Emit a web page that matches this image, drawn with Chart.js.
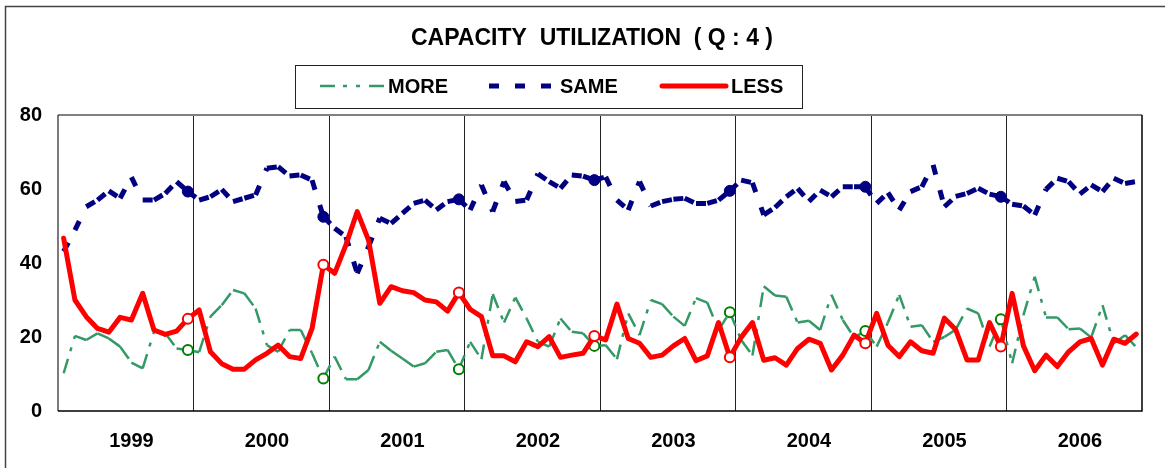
<!DOCTYPE html>
<html>
<head>
<meta charset="utf-8">
<script src="https://cdn.jsdelivr.net/npm/chart.js@4"></script>
<style>
  html, body { margin: 0; padding: 0; background: #fff; }
  #wrap { width: 1165px; height: 468px; }
</style>
</head>
<body>
<div id="wrap"><canvas id="capChart" width="1165" height="468"></canvas></div>
<script>
// ---- data (monthly, Jan 1999 .. Dec 2006) ----
const years = ["1999", "2000", "2001", "2002", "2003", "2004", "2005", "2006"];
const yTicks = [0, 20, 40, 60, 80];

const more = [
  10.2, 20.3, 19.2, 21.0, 19.6, 17.4, 13.1, 11.5, 21.4, 21.0, 16.9, 16.5,
  15.9, 25.5, 28.6, 32.7, 31.8, 27.7, 17.8, 16.0, 21.9, 21.9, 15.6, 8.8,
  14.7, 8.6, 8.6, 11.1, 18.7, 16.3, 14.2, 12.0, 12.9, 16.0, 16.5, 11.3,
  18.7, 14.0, 31.6, 23.9, 30.7, 25.0, 18.7, 17.4, 25.0, 21.4, 21.0, 17.6,
  17.8, 14.0, 26.4, 20.5, 30.0, 28.9, 25.5, 23.0, 30.5, 29.3, 21.9, 26.7,
  19.2, 15.0, 33.7, 31.2, 30.9, 23.9, 24.4, 21.9, 31.4, 24.6, 19.9, 21.6,
  17.4, 23.9, 31.4, 22.8, 23.2, 18.7, 20.0, 22.0, 27.7, 26.4, 17.4, 24.8,
  12.9, 25.9, 36.3, 25.3, 25.3, 22.1, 22.3, 19.9, 28.6, 18.3, 20.5, 17.2
];
const same = [
  43.1, 48.9, 55.2, 57.0, 59.5, 57.5, 63.2, 57.0, 57.0, 58.8, 62.0, 59.3,
  57.0, 57.9, 59.9, 56.6, 57.5, 58.4, 65.6, 66.0, 63.5, 63.8, 62.4, 52.5,
  49.4, 47.1, 37.2, 44.4, 52.1, 50.7, 53.4, 56.1, 57.0, 54.3, 56.6, 57.2,
  54.3, 61.1, 53.9, 62.0, 56.6, 57.0, 64.1, 62.0, 60.2, 63.8, 63.5, 62.4,
  63.3, 57.0, 54.3, 62.0, 55.4, 56.6, 57.2, 57.5, 56.1, 56.1, 57.0, 59.5,
  62.4, 61.7, 53.0, 55.0, 57.9, 60.2, 56.6, 59.7, 57.9, 60.6, 60.6, 60.6,
  56.1, 59.0, 54.3, 59.3, 60.6, 66.5, 55.2, 58.0, 58.8, 60.2, 58.6, 57.9,
  55.9, 55.4, 53.0, 59.9, 62.9, 62.0, 58.6, 61.1, 59.3, 62.9, 61.5, 62.0
];
const less = [
  46.7, 30.0, 25.5, 22.3, 21.3, 25.3, 24.6, 31.8, 21.9, 20.7, 21.6, 24.9,
  27.3, 16.0, 12.8, 11.3, 11.3, 13.8, 15.6, 17.8, 14.7, 14.2, 22.3, 39.5,
  37.2, 44.9, 53.9, 46.2, 29.1, 33.6, 32.5, 32.0, 30.0, 29.5, 27.0, 32.0,
  27.5, 25.5, 14.9, 14.9, 13.3, 18.7, 17.4, 20.1, 14.5, 15.1, 15.6, 20.3,
  19.2, 28.9, 19.6, 18.3, 14.5, 15.1, 17.6, 19.6, 13.6, 14.9, 23.9, 14.5,
  19.9, 23.9, 13.7, 14.4, 12.4, 16.9, 19.4, 18.3, 11.1, 15.1, 20.5, 18.3,
  26.4, 17.8, 14.7, 18.7, 16.3, 15.6, 25.1, 22.0, 13.8, 13.8, 23.9, 17.4,
  31.8, 17.6, 10.9, 15.1, 12.0, 16.0, 18.7, 19.6, 12.4, 19.4, 18.3, 20.8
];

const labels = [];
years.forEach(y => { for (let m = 1; m <= 12; m++) labels.push(y + "-" + m); });

const FONT = '"Liberation Sans", Arial, sans-serif';
const GREEN = "#339966", NAVY = "#000080", RED = "#ff0000";
const moreDash = [15, 8, 4, 9, 4, 9];
const sameDash = [10, 16];

// year-end marker (December), not on the last year
const isMark = ctx => ctx.dataIndex % 12 === 11 && ctx.dataIndex < labels.length - 1;
// restart the dash pattern on every segment (as the original does)
const restartDash = ctx => (ctx.p0DataIndex % 2) * 0.01;

const framePlugin = {
  id: "frame",
  afterDraw(chart) {
    const c = chart.ctx, a = chart.chartArea;
    c.save();
    // outer frame
    c.strokeStyle = "#444"; c.lineWidth = 1.5;
    c.strokeRect(5.5, 6.5, 1200, 500);
    // plot box
    c.lineWidth = 2; c.strokeStyle = "#808080";
    c.beginPath(); c.moveTo(a.left, a.top); c.lineTo(a.right, a.top); c.stroke();
    c.lineWidth = 1.2; c.strokeStyle = "#222";
    c.beginPath(); c.moveTo(a.left, a.top); c.lineTo(a.left, a.bottom); c.stroke();
    c.lineWidth = 1.5; c.strokeStyle = "#000";
    c.beginPath(); c.moveTo(a.left, a.bottom); c.lineTo(a.right, a.bottom); c.lineTo(a.right, a.top); c.stroke();

    // title
    c.fillStyle = "#000";
    c.font = "bold 23px " + FONT;
    c.textAlign = "center"; c.textBaseline = "middle";
    c.fillText("CAPACITY  UTILIZATION  ( Q : 4 )", 592, 39);

    // legend box
    c.lineWidth = 1; c.strokeStyle = "#222";
    c.strokeRect(295.5, 65.5, 507, 43);
    const ly = 86;
    const items = [
      { x0: 320, x1: 385, tx: 388, text: "MORE", color: GREEN, w: 2.5, dash: moreDash, cap: "butt" },
      { x0: 489, x1: 552, tx: 560, text: "SAME", color: NAVY, w: 5, dash: sameDash, cap: "butt" },
      { x0: 662, x1: 726, tx: 731, text: "LESS", color: RED, w: 5, dash: [], cap: "round" }
    ];
    c.textAlign = "left";
    items.forEach(it => {
      c.strokeStyle = it.color; c.lineWidth = it.w; c.lineCap = it.cap;
      c.setLineDash(it.dash);
      c.beginPath(); c.moveTo(it.x0, ly); c.lineTo(it.x1, ly); c.stroke();
      c.setLineDash([]);
      c.fillStyle = "#000";
      c.font = "bold 20px " + FONT;
      c.fillText(it.text, it.tx, ly + 1);
    });
    c.restore();
  }
};

new Chart(document.getElementById("capChart"), {
  type: "line",
  data: {
    labels: labels,
    datasets: [
      {
        label: "MORE", data: more, order: 3,
        borderColor: GREEN, borderWidth: 2.5, borderDash: moreDash,
        segment: { borderDashOffset: restartDash },
        tension: 0, fill: false,
        pointRadius: ctx => isMark(ctx) ? 5 : 0,
        pointBorderColor: "#008000", pointBackgroundColor: "#fff", pointBorderWidth: 2
      },
      {
        label: "SAME", data: same, order: 2,
        borderColor: NAVY, borderWidth: 5, borderDash: sameDash,
        segment: { borderDashOffset: restartDash },
        tension: 0, fill: false,
        pointRadius: ctx => isMark(ctx) ? 5.5 : 0,
        pointBorderColor: NAVY, pointBackgroundColor: NAVY, pointBorderWidth: 1
      },
      {
        label: "LESS", data: less, order: 1,
        borderColor: RED, borderWidth: 5, borderJoinStyle: "round", borderCapStyle: "round",
        tension: 0, fill: false,
        pointRadius: ctx => isMark(ctx) ? 5 : 0,
        pointBorderColor: RED, pointBackgroundColor: "#fff", pointBorderWidth: 2
      }
    ]
  },
  options: {
    responsive: false,
    animation: false,
    events: [],
    layout: { padding: { top: 115, right: 23, bottom: 0, left: 0 } },
    plugins: { legend: { display: false }, title: { display: false }, tooltip: { enabled: false } },
    scales: {
      x: {
        type: "category",
        offset: true,
        border: { display: false },
        grid: {
          offset: true,
          drawTicks: false,
          lineWidth: 1,
          color: ctx => (ctx.index % 12 === 0 && ctx.index > 0 && ctx.index < labels.length) ? "#222" : "rgba(0,0,0,0)"
        },
        ticks: {
          autoSkip: false, maxRotation: 0, minRotation: 0, padding: 18,
          color: "#000", font: { family: FONT, size: 20, weight: "bold" },
          callback: (v, i) => i % 12 === 6 ? years[Math.floor(i / 12)] : ""
        },
        afterFit: s => { s.height = 57; }
      },
      y: {
        min: yTicks[0], max: yTicks[yTicks.length - 1],
        border: { display: false },
        grid: { display: false, drawTicks: false },
        afterBuildTicks: s => { s.ticks = yTicks.map(v => ({ value: v })); },
        ticks: { padding: 16, color: "#000", font: { family: FONT, size: 20, weight: "bold" } },
        afterFit: s => { s.width = 58; }
      }
    }
  },
  plugins: [framePlugin]
});
</script>
</body>
</html>
